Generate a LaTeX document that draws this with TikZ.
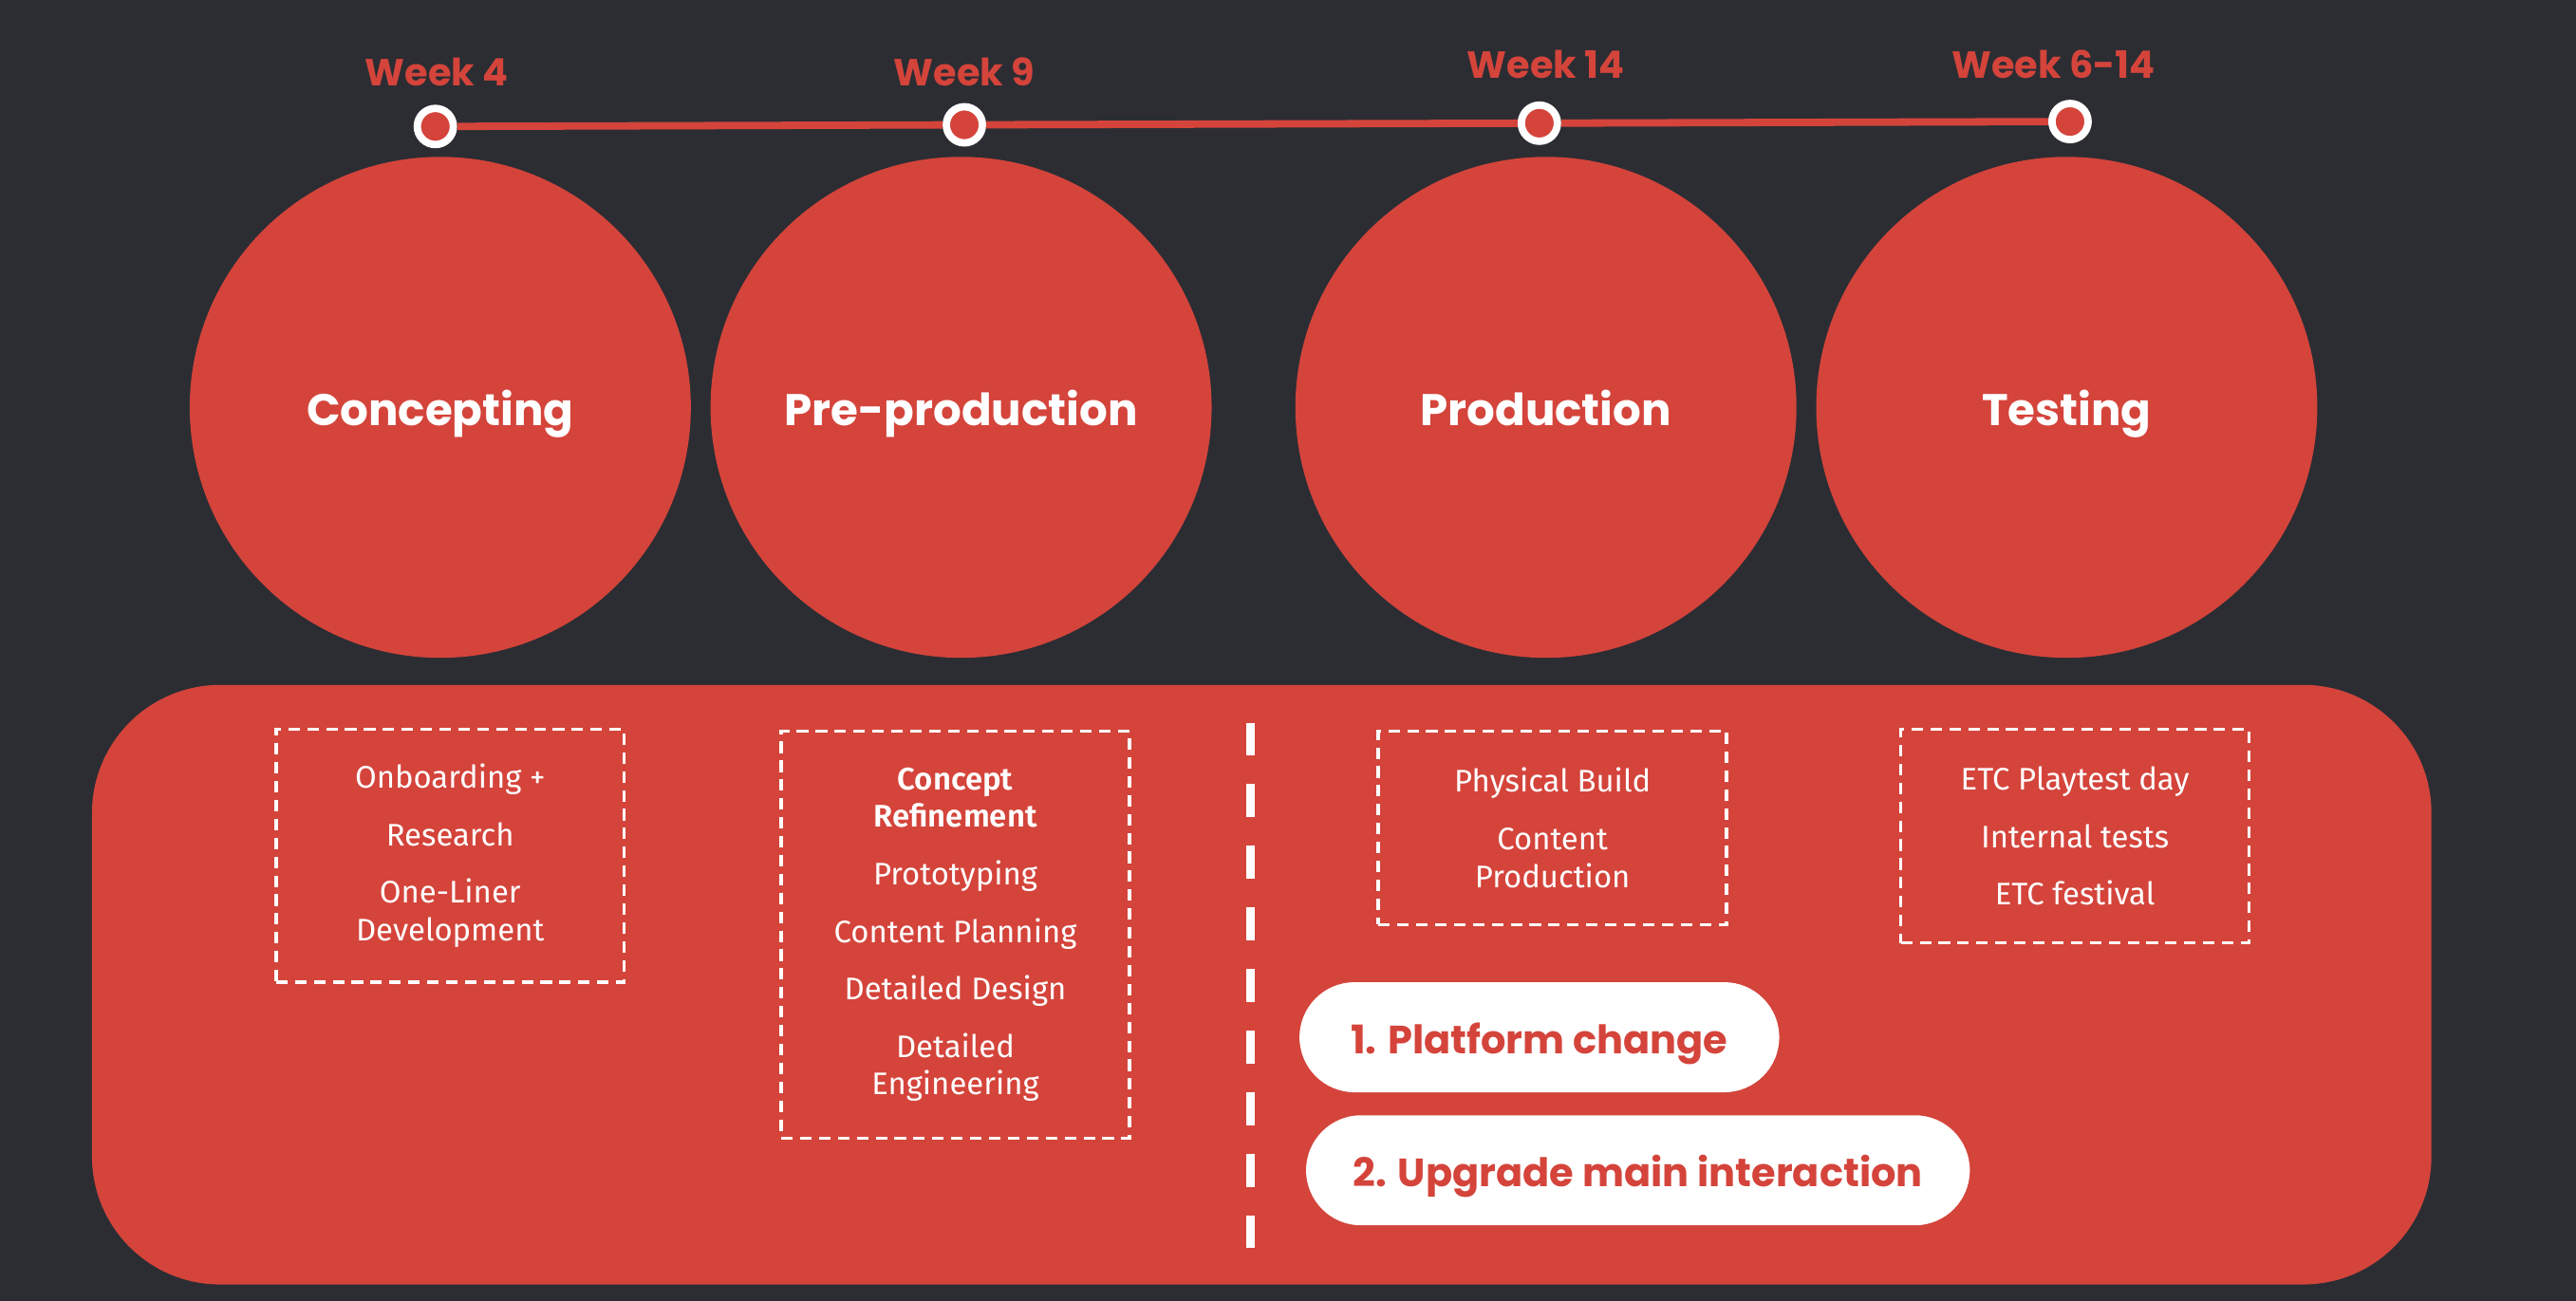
\documentclass[tikz,border=0pt]{standalone}
\usepackage{fontspec}
\setmainfont{Fira Sans}[BoldFont=* SemiBold]
\newfontfamily\headfont{Poppins}
\definecolor{phasered}{RGB}{212,68,59}
\definecolor{bgdark}{RGB}{44,45,51}
\tikzset{
  phase/.style={circle,fill=phasered,minimum size=305pt,inner sep=0pt,text=white,text height=22pt,text depth=0pt,font=\headfont\bfseries\fontsize{27}{30}\selectfont},
  weekdot/.style={circle,fill=phasered,draw=white,line width=4.5pt,minimum size=22pt,inner sep=0pt},
  weeklabel/.style={text=phasered,text height=19pt,text depth=0pt,font=\headfont\bfseries\fontsize{23}{26}\selectfont},
  taskbox/.style={draw=white,line width=2pt,dash pattern=on 7pt off 4.5pt,text=white,align=center,minimum width=212pt,inner sep=0pt,font=\fontsize{19}{23}\selectfont},
  pill/.style={fill=white,text=phasered,rounded corners=33.5pt,minimum height=67pt,inner sep=0pt,text height=20pt,text depth=0pt,font=\headfont\bfseries\fontsize{24}{27}\selectfont}
}
\begin{document}
\begin{tikzpicture}[line cap=butt,x=1pt,y=-1pt]
		\useasboundingbox (0,0) rectangle (1568,792);
		\fill[bgdark] (0,0) rectangle (1568,792);
		% phases
		\node[phase] (concepting) at (268,248) {Concepting};
		\node[phase] (preprod) at (585,248) {Pre-production};
		\node[phase] (production) at (941,248) {Production};
		\node[phase] (testing) at (1258,248) {Testing};
		% timeline
		\node[weekdot] (w4) at (265,77) {};
		\node[weekdot] (w9) at (587,76) {};
		\node[weekdot] (w14) at (937,75) {};
		\node[weekdot] (w614) at (1260,74) {};
		\draw[phasered,line width=4.5pt] (w4) -- (w9) -- (w14) -- (w614);
		\node[weeklabel] (l4) at (266,43) {Week 4};
		\node[weeklabel] (l9) at (587,43) {Week 9};
		\node[weeklabel] (l14) at (941,38) {Week 14};
		\node[weeklabel] (l614) at (1250,38) {Week 6-14};
		% tasks panel
		\fill[phasered,rounded corners=78pt] (56,417) rectangle (1480,782);
		\node[taskbox,minimum height=154pt] (tconcept) at (274,521) {Onboarding +\\[12pt] Research\\[12pt] One-Liner\\ Development};
		\node[taskbox,minimum height=248pt] (tpre) at (581.5,569) {\bfseries Concept\\ \bfseries Refinement\\[12pt] Prototyping\\[12pt] Content Planning\\[12pt] Detailed Design\\[12pt] Detailed\\ Engineering};
		\node[taskbox,minimum height=118pt] (tprod) at (945,504) {Physical Build\\[12pt] Content\\ Production};
		\node[taskbox,minimum height=130pt] (ttest) at (1263,509) {ETC Playtest day\\[12pt] Internal tests\\[12pt] ETC festival};
		\draw[white,line width=5pt,dash pattern=on 20pt off 17.5pt] (761,440) -- (761,760);
		\node[pill,minimum width=292pt] (change1) at (937,631.5) {1. Platform change};
		\node[pill,minimum width=404pt] (change2) at (997,712.5) {2. Upgrade main interaction};
\end{tikzpicture}
\end{document}
